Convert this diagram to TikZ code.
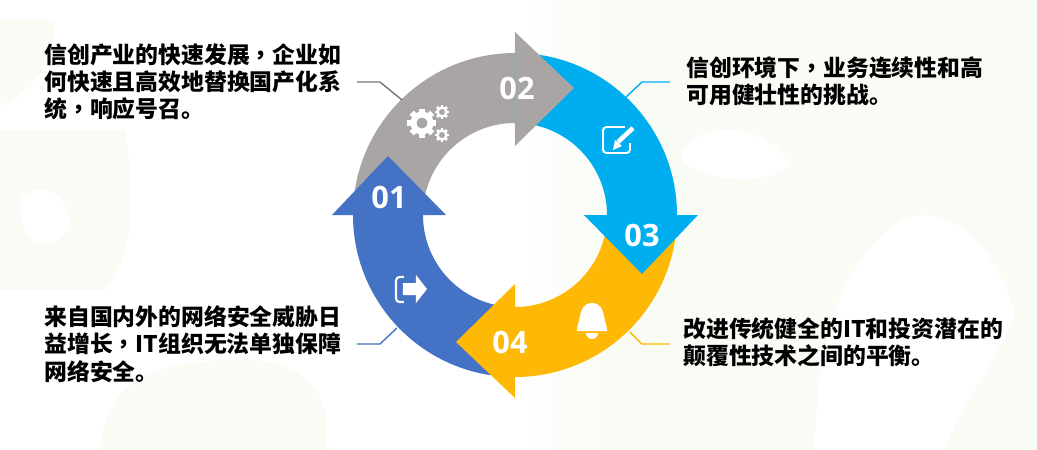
\documentclass[tikz,border=0pt]{standalone}
\usepackage{fontspec}
\setmainfont{Noto Sans CJK SC}
\newfontfamily\numfont{Open Sans}
\newfontfamily\commafont{Noto Sans CJK TC}
\newcommand{\midcomma}{{\commafont\bfseries ，}}
\usetikzlibrary{calc}
\definecolor{ringgray}{HTML}{A9A5A5}
\definecolor{ringcyan}{HTML}{00AEEF}
\definecolor{ringgold}{HTML}{FDB905}
\definecolor{ringblue}{HTML}{4472C4}
\definecolor{bgleaf}{HTML}{F9FBF5}
\tikzset{
    blurb/.style={anchor=north west, inner sep=0pt, align=left, text width=6.6cm,
        font=\fontsize{13}{15.6}\selectfont\bfseries, text=black},
    stepnum/.style={inner sep=0pt, text=white, font=\numfont\fontsize{17.5}{20}\selectfont\bfseries},
    leader/.style={line width=0.8pt}
}

\begin{document}
\begin{tikzpicture}
    \useasboundingbox (-10.3,4.3) rectangle (10.44,-4.7);

    % faint background
    \shade[left color=white, right color=bgleaf] (0,4.3) rectangle (2,-4.7);
    \fill[bgleaf] (2,4.3) -- (10.44,4.3) -- (10.44,-4.7) -- (2,-4.7) -- cycle;
    \fill[white] (3.3,1.2) .. controls (3.6,1.9) and (5,1.9) .. (5.5,1) .. controls (5.2,0.6) and (3.6,0.6) .. (3.3,1.2) -- cycle;
    \fill[white] (7.6,-0.2) .. controls (8.4,0.4) and (9.6,-0.4) .. (10,-2) .. controls (9.6,-3) and (8.9,-3.8) .. (8.6,-4.7)
        -- (6,-4.7) .. controls (6,-3.4) and (6.2,-1.2) .. (7.6,-0.2) -- cycle;
    \fill[bgleaf] (-10.3,1.7) -- (-7.8,1.7) .. controls (-7.6,0.4) and (-7.6,-0.8) .. (-8.2,-1.5) -- (-10.3,-1.5) -- cycle;
    \fill[white] (-9.9,0.3) .. controls (-9.6,0.7) and (-8.9,0.5) .. (-8.9,-0.2) .. controls (-9.2,-0.9) and (-10,-0.6) .. (-9.9,0.3) -- cycle;
    \fill[bgleaf] (-8.3,-4.7) .. controls (-8.2,-3.4) and (-7.4,-2.9) .. (-5.4,-2.9) .. controls (-4.2,-2.9) and (-3.6,-3.6) .. (-3.8,-4.7) -- cycle;
    \fill[bgleaf] (-10.3,3.9) -- (-9.2,3.9) .. controls (-9.2,3) and (-9.7,2.4) .. (-10.3,2.2) -- cycle;

    % ring bodies
    \foreach \a/\c in {180/ringgray, 90/ringcyan, 0/ringgold, -90/ringblue}
        \fill[\c] (\a:3.24) arc (\a:\a-90:3.24) -- (\a-90:1.84) arc (\a-90:\a:1.84) -- cycle;

    % arrow heads
    \foreach \a/\c in {90/ringgray, 0/ringcyan, -90/ringgold, 180/ringblue}
        \fill[\c, rotate=\a] (3.66,0) -- (2.54,-1.18) -- (1.38,0) -- cycle;

    \node[stepnum] (num1) at (-2.52,0.36) {01};
    \node[stepnum] (num2) at (0.04,2.54) {02};
    \node[stepnum] (num3) at (2.54,-0.4) {03};
    \node[stepnum] (num4) at (-0.1,-2.54) {04};

    % gears
    \foreach \x/\y/\r/\w in {-1.86/1.84/0.17/0.12, -1.46/2.06/0.09/0.05, -1.46/1.6/0.09/0.05}{
        \draw[white, line width=\w cm] (\x,\y) circle(\r);
        \foreach \t in {0,45,...,315}
            \draw[white, line width=\w cm] ($(\x,\y)+(\t:\r)$) -- ($(\x,\y)+(\t:\r+\w)$);
    }

    % note with pencil
    \draw[white, line width=1.1pt, rounded corners=2pt] (2.2,1.76) -- (1.76,1.76) -- (1.76,1.24) -- (2.3,1.24) -- (2.3,1.44);
    \draw[white, line width=2.6pt] (2.06,1.46) -- (2.36,1.74);
    \fill[white] (1.96,1.3) -- (2.0,1.5) -- (2.14,1.38) -- cycle;

    % bell
    \fill[white] (1.54,-1.76) .. controls (1.36,-1.76) and (1.32,-1.92) .. (1.3,-2.02) .. controls (1.28,-2.14) and (1.24,-2.22) .. (1.24,-2.32)
        -- (1.84,-2.32) .. controls (1.84,-2.22) and (1.8,-2.14) .. (1.78,-2.02) .. controls (1.76,-1.92) and (1.72,-1.76) .. (1.54,-1.76) -- cycle;
    \fill[white] (1.42,-2.36) arc (180:360:0.12);

    % exit
    \draw[white, line width=1.2pt, rounded corners=2pt] (-2.22,-1.24) -- (-2.38,-1.24) -- (-2.38,-1.74) -- (-2.22,-1.74);
    \fill[white] (-2.24,-1.36) -- (-1.98,-1.36) -- (-1.98,-1.2) -- (-1.76,-1.48) -- (-1.98,-1.76) -- (-1.98,-1.6) -- (-2.24,-1.6) -- cycle;

    % texts
    \node[blurb] (text1) at (-9.42,3.44) {信创产业的快速发展\midcomma 企业如\\何快速且高效地替换国产化系\\统\midcomma 响应号召。};
    \node[blurb] (text2) at (3.42,3.18) {信创环境下\midcomma 业务连续性和高\\可用健壮性的挑战。};
    \node[blurb] (text3) at (3.36,-2.04) {改进传统健全的IT和投资潜在的\\颠覆性技术之间的平衡。};
    \node[blurb] (text4) at (-9.42,-1.8) {来自国内外的网络安全威胁日\\益增长\midcomma IT组织无法单独保障\\网络安全。};

    % leader lines
    \coordinate (lead1) at (-3.16,2.66);
    \coordinate (lead2) at (3.1,2.66);
    \coordinate (lead3) at (3.1,-2.58);
    \coordinate (lead4) at (-3.16,-2.58);
    \coordinate (ring1) at (-2.26,2.3);
    \coordinate (ring2) at (2.2,2.34);
    \coordinate (ring3) at (2.3,-2.34);
    \coordinate (ring4) at (-2.36,-2.26);
    \draw[leader, ringgray!70!black] (lead1) -- ++(0.46,0) -- (ring1);
    \draw[leader, ringcyan] (lead2) -- ++(-0.56,0) -- (ring2);
    \draw[leader, ringgold] (lead3) -- ++(-0.56,0) -- (ring3);
    \draw[leader, ringblue] (lead4) -- ++(0.46,0) -- (ring4);
\end{tikzpicture}
\end{document}
